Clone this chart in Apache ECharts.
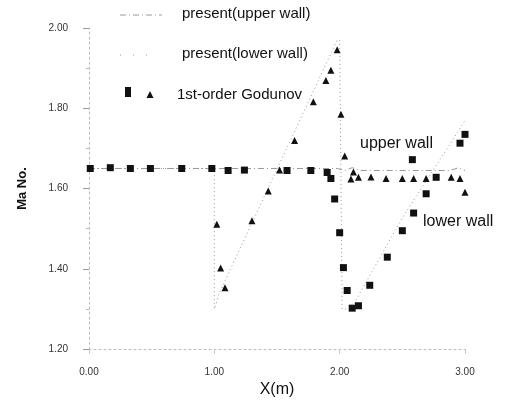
<!DOCTYPE html>
<html lang="en">
<head>
<meta charset="UTF-8">
<title>Ma No. along the walls</title>
<script src="https://cdn.jsdelivr.net/npm/echarts/dist/echarts.min.js"></script>
<style>
    html,body{margin:0;padding:0;background:#fff;}
    #main{width:505px;height:403px;}
</style>
</head>
<body>
<div id="main"></div>
<script>
// present scheme, upper wall (dash-dot line)
var upperWall = [
    [0, 1.65], [1.98, 1.65], [2.04, 1.645], [2.1, 1.652], [2.16, 1.645],
    [2.88, 1.645], [2.95, 1.652], [3.0, 1.645]
];
// present scheme, lower wall (dotted line)
var lowerWall = [
    [0, 1.65], [1.0, 1.65], [1.0, 1.30], [1.04, 1.34], [1.98, 1.97], [2.0, 1.97],
    [2.02, 1.30], [2.09, 1.30], [2.5, 1.527], [2.9, 1.72], [3.0, 1.77]
];
// 1st-order Godunov, squares
var godunovSquares = [
    [0.01, 1.65], [0.17, 1.652], [0.33, 1.65], [0.49, 1.65], [0.74, 1.65], [0.98, 1.65],
    [1.11, 1.645], [1.24, 1.646], [1.58, 1.645], [1.77, 1.645], [1.90, 1.64], [1.93, 1.625],
    [1.96, 1.574], [2.0, 1.49], [2.03, 1.403], [2.06, 1.346], [2.10, 1.302], [2.15, 1.308],
    [2.24, 1.359], [2.38, 1.429], [2.50, 1.495], [2.59, 1.539], [2.69, 1.587], [2.77, 1.628],
    [2.58, 1.672], [2.96, 1.713], [3.0, 1.735]
];
// 1st-order Godunov, triangles
var godunovTriangles = [
    [1.02, 1.511], [1.05, 1.402], [1.085, 1.353], [1.30, 1.52], [1.43, 1.594], [1.52, 1.646],
    [1.64, 1.72], [1.79, 1.816], [1.89, 1.869], [1.93, 1.895], [1.98, 1.946], [2.01, 1.785],
    [2.04, 1.681], [2.09, 1.624], [2.11, 1.641], [2.15, 1.628], [2.25, 1.629], [2.37, 1.625],
    [2.50, 1.625], [2.59, 1.625], [2.69, 1.625], [2.89, 1.628], [2.96, 1.625], [3.0, 1.591]
];

var lineGray = '#999';
var font = 'Liberation Sans, Arial, sans-serif';

let myChart = echarts.init(document.getElementById('main'));

var option = {
    backgroundColor: '#fff',
    animation: false,
    grid: { left: 89, right: 40, top: 28, bottom: 47 },
    xAxis: {
        type: 'value',
        min: 0, max: 3, interval: 1,
        name: 'X(m)',
        nameLocation: 'middle',
        nameGap: 28,
        nameTextStyle: { fontFamily: font, fontSize: 16, color: '#111' },
        axisLine: { lineStyle: { color: '#bbb', type: [2, 3], width: 1 } },
        axisTick: { show: true, length: 5, lineStyle: { color: '#ccc' } },
        axisLabel: {
            fontFamily: font, fontSize: 10, color: '#333', margin: 18,
            formatter: function (v) { return v.toFixed(2); }
        },
        splitLine: { show: false }
    },
    yAxis: {
        type: 'value',
        min: 1.2, max: 2.0, interval: 0.2,
        name: 'Ma No.',
        nameLocation: 'middle',
        nameGap: 60,
        nameTextStyle: { fontFamily: font, fontSize: 13, fontWeight: 'bold', color: '#111' },
        axisLine: { lineStyle: { color: '#bbb', type: [2, 3], width: 1 } },
        axisTick: { show: true, length: 6, lineStyle: { color: '#999' } },
        minorTick: { show: true, splitNumber: 2, length: 3, lineStyle: { color: '#bbb' } },
        axisLabel: {
            fontFamily: font, fontSize: 10, color: '#333', margin: 21,
            formatter: function (v) { return v.toFixed(2); }
        },
        splitLine: { show: false }
    },
    graphic: [
        // legend
        { type: 'line', shape: { x1: 120, y1: 15, x2: 162, y2: 15 },
          style: { stroke: lineGray, lineWidth: 1, lineDash: [6, 3, 1, 3] } },
        { type: 'text', left: 182, top: 6,
          style: { text: 'present(upper wall)', font: '15px ' + font, fill: '#111' } },
        { type: 'line', shape: { x1: 120, y1: 55, x2: 150, y2: 55 },
          style: { stroke: lineGray, lineWidth: 1, lineDash: [1, 12] } },
        { type: 'text', left: 182, top: 46,
          style: { text: 'present(lower wall)', font: '15px ' + font, fill: '#111' } },
        { type: 'rect', shape: { x: 125, y: 87, width: 6, height: 10 }, style: { fill: '#111' } },
        { type: 'polygon', shape: { points: [[150, 91], [146.5, 98], [153.5, 98]] }, style: { fill: '#111' } },
        { type: 'text', left: 177, top: 87,
          style: { text: '1st-order Godunov', font: '15px ' + font, fill: '#111' } },
        // wall annotations
        { type: 'text', left: 360, top: 136,
          style: { text: 'upper wall', font: '16px ' + font, fill: '#111' } },
        { type: 'text', left: 423, top: 214,
          style: { text: 'lower wall', font: '16px ' + font, fill: '#111' } }
    ],
    series: [
        {
            name: 'present(upper wall)',
            type: 'line',
            data: upperWall,
            symbol: 'none',
            z: 1,
            lineStyle: { color: lineGray, width: 1, type: [6, 3, 1, 3] }
        },
        {
            name: 'present(lower wall)',
            type: 'line',
            data: lowerWall,
            symbol: 'none',
            z: 1,
            lineStyle: { color: lineGray, width: 1, type: [1, 3] }
        },
        {
            name: '1st-order Godunov',
            type: 'scatter',
            data: godunovSquares,
            symbol: 'rect',
            symbolSize: 7,
            z: 3,
            itemStyle: { color: '#111', opacity: 1 }
        },
        {
            name: '1st-order Godunov ',
            type: 'scatter',
            data: godunovTriangles,
            symbol: 'triangle',
            symbolSize: 7,
            z: 3,
            itemStyle: { color: '#111', opacity: 1 }
        }
    ]
};

myChart.setOption(option);
</script>
</body>
</html>
